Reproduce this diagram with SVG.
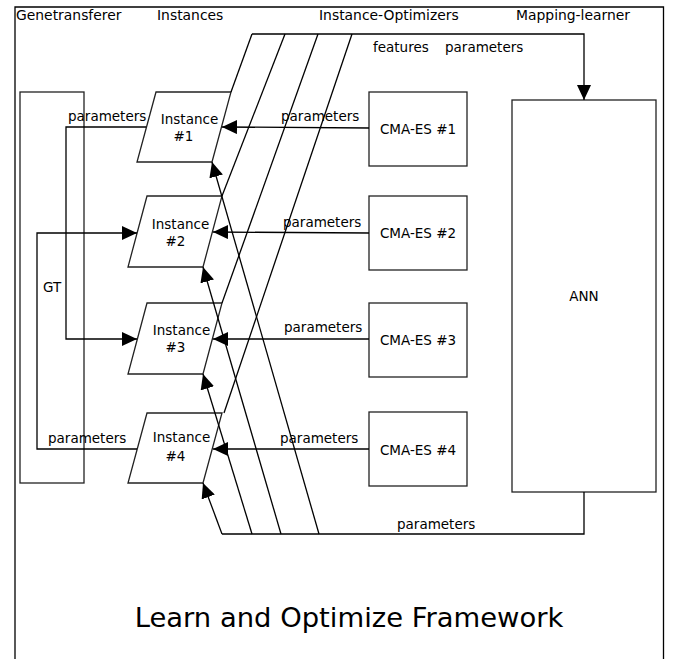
<svg xmlns="http://www.w3.org/2000/svg" width="680" height="659" viewBox="0 0 680 659">
<defs>
<style>
text{font-family:"DejaVu Sans","Liberation Sans",sans-serif;font-size:13.5px;fill:#000}
.c{text-anchor:middle}
.h{font-size:13.9px}
.box{fill:#fff;stroke:#222;stroke-width:1.3}
.ln{fill:none;stroke:#000;stroke-width:1.3}
.title{font-size:27.4px}
</style>
<marker id="ah" viewBox="0 0 15 14" refX="15" refY="7" markerWidth="15" markerHeight="14" markerUnits="userSpaceOnUse" orient="auto">
<path d="M0,0 L15,7 L0,14 z" fill="#000"/>
</marker>
</defs>
<rect x="0" y="0" width="680" height="659" fill="#fff"/>
<g id="frame">
<path class="ln" d="M15,670 V7 H663.5 V670"/>
<text class="h" x="16" y="20">Genetransferer</text>
<text class="h" x="157" y="20">Instances</text>
<text class="h" x="319" y="20">Instance-Optimizers</text>
<text class="h" x="516" y="20">Mapping-learner</text>
<text class="c title" x="349" y="627">Learn and Optimize Framework</text>
</g>
<g id="gt">
<rect class="box" x="20" y="92" width="64" height="391"/>
<text x="43" y="292">GT</text>
</g>
<g id="inst1">
<polygon class="box" points="156,92 231,92 212,162 137,162"/>
<text class="c" x="189.5" y="124">Instance</text>
<text class="c" x="183.5" y="141">#1</text>
</g>
<g id="inst2">
<polygon class="box" points="147,196 222,196 203,267 128,267"/>
<text class="c" x="180.5" y="229">Instance</text>
<text class="c" x="175.5" y="246">#2</text>
</g>
<g id="inst3">
<polygon class="box" points="147,303 222,303 203,374 128,374"/>
<text class="c" x="181.5" y="335">Instance</text>
<text class="c" x="175.5" y="352">#3</text>
</g>
<g id="inst4">
<polygon class="box" points="147,413 222,413 203,483 128,483"/>
<text class="c" x="181.5" y="442">Instance</text>
<text class="c" x="175.5" y="461">#4</text>
</g>
<g id="cma1">
<rect class="box" x="369" y="92" width="98" height="74"/>
<text class="c" x="418" y="134">CMA-ES #1</text>
</g>
<g id="cma2">
<rect class="box" x="369" y="196" width="98" height="74"/>
<text class="c" x="418" y="238">CMA-ES #2</text>
</g>
<g id="cma3">
<rect class="box" x="369" y="303" width="98" height="74"/>
<text class="c" x="418" y="345">CMA-ES #3</text>
</g>
<g id="cma4">
<rect class="box" x="369" y="412" width="98" height="74"/>
<text class="c" x="418" y="455">CMA-ES #4</text>
</g>
<g id="ann">
<rect class="box" x="512" y="100" width="144" height="392"/>
<text class="c" x="584" y="301">ANN</text>
</g>
<g id="connectors">
<path class="ln" d="M146,127 H66 V339 H137" marker-end="url(#ah)"/>
<path class="ln" d="M137,449 H37 V233 H137" marker-end="url(#ah)"/>
<line class="ln" x1="369" y1="128" x2="222" y2="127" marker-end="url(#ah)"/>
<line class="ln" x1="369" y1="233" x2="213" y2="232" marker-end="url(#ah)"/>
<line class="ln" x1="369" y1="339" x2="213" y2="339" marker-end="url(#ah)"/>
<line class="ln" x1="369" y1="449" x2="213" y2="449" marker-end="url(#ah)"/>
<line class="ln" x1="231" y1="92" x2="252" y2="34"/>
<line class="ln" x1="222" y1="196" x2="285" y2="34"/>
<line class="ln" x1="222" y1="303" x2="318" y2="34"/>
<line class="ln" x1="224" y1="413" x2="352" y2="34"/>
<path class="ln" d="M252,34 H584 V100" marker-end="url(#ah)"/>
<path class="ln" d="M584,492 V534 H222"/>
<line class="ln" x1="222" y1="534" x2="203" y2="483" marker-end="url(#ah)"/>
<line class="ln" x1="252" y1="534" x2="203" y2="374" marker-end="url(#ah)"/>
<line class="ln" x1="281" y1="534" x2="203" y2="267" marker-end="url(#ah)"/>
<line class="ln" x1="319" y1="534" x2="212" y2="162" marker-end="url(#ah)"/>
<text x="68" y="121">parameters</text>
<text x="48" y="443">parameters</text>
<text x="281" y="121">parameters</text>
<text x="283" y="227">parameters</text>
<text x="284" y="332">parameters</text>
<text x="280" y="443">parameters</text>
<text x="373" y="52">features</text>
<text x="445" y="52">parameters</text>
<text x="397" y="529">parameters</text>
</g>
</svg>
